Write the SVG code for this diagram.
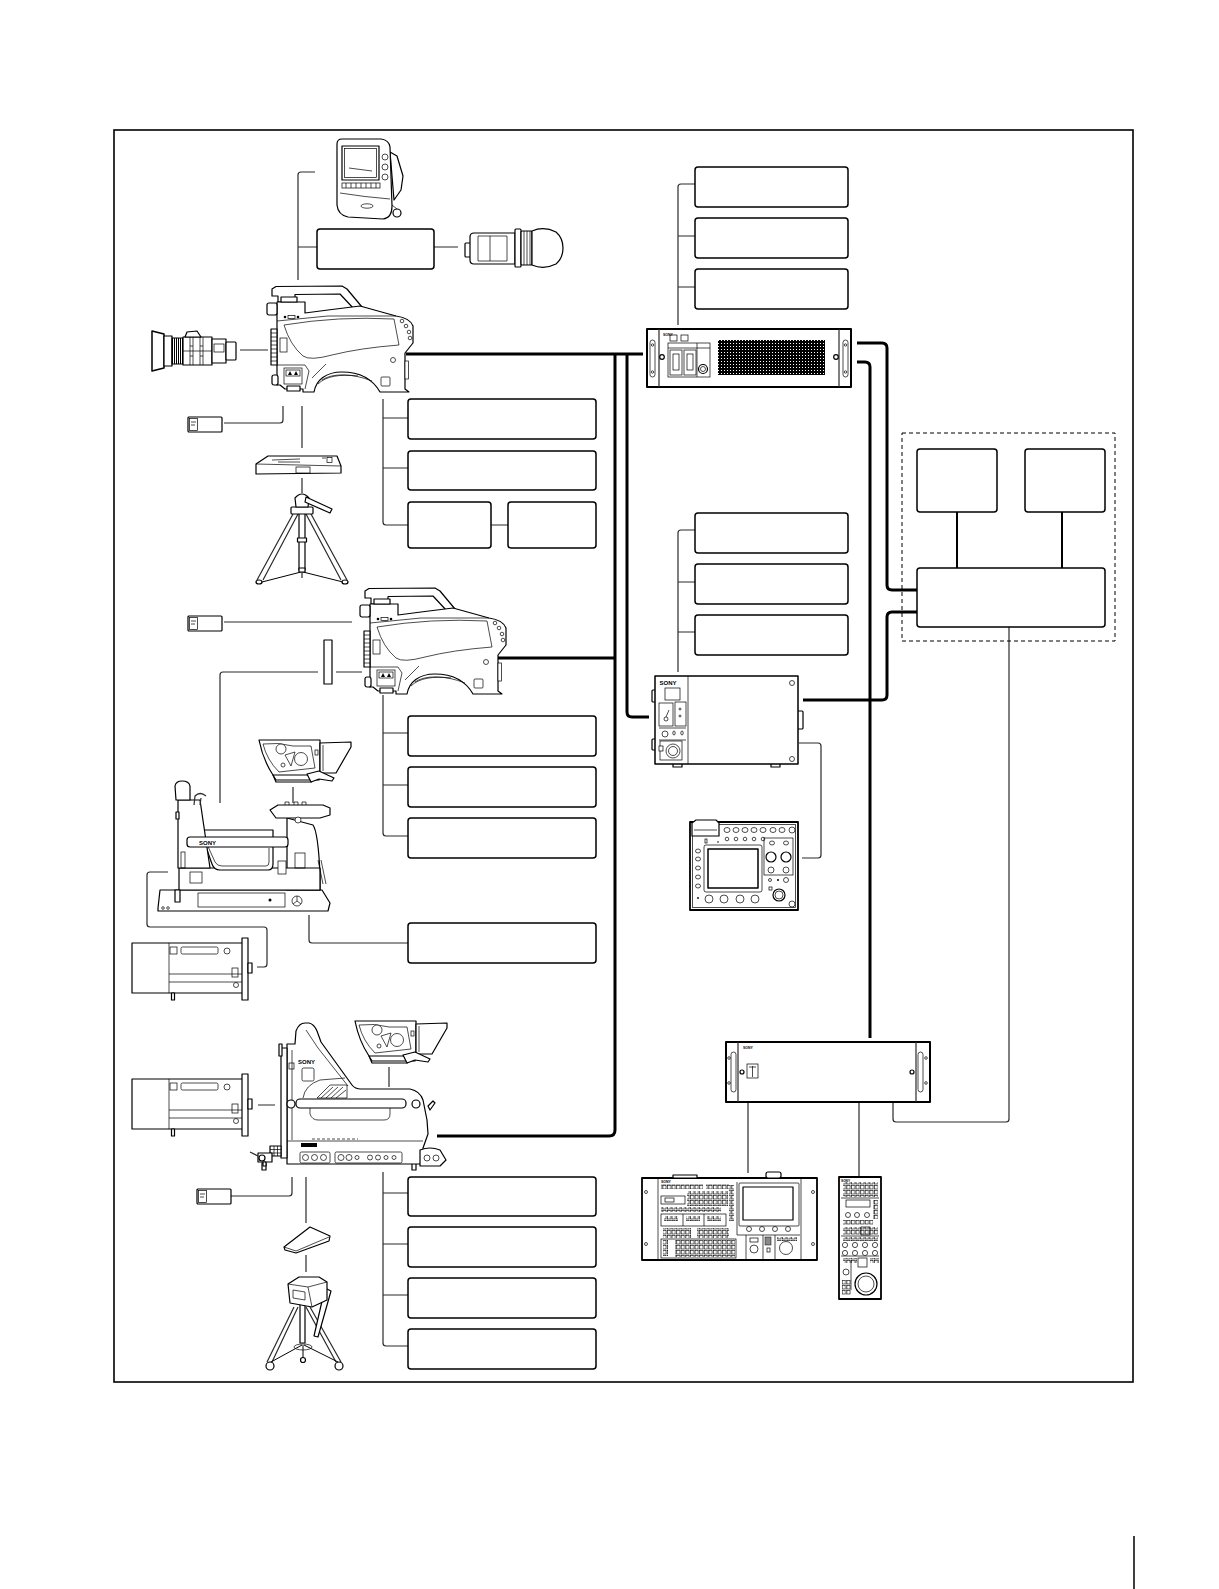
<svg xmlns="http://www.w3.org/2000/svg" width="1219" height="1589" viewBox="0 0 1219 1589">
<style>
.frame{fill:none;stroke:#000;stroke-width:1.6}
.box{fill:#fff;stroke:#000;stroke-width:1.5}
.c1{fill:none;stroke:#2a2a2a;stroke-width:1.2}
.c2{fill:none;stroke:#000;stroke-width:2}
.c3{fill:none;stroke:#000;stroke-width:3}
.w{fill:#fff;stroke:#000;stroke-width:1.2;stroke-linejoin:round}
.t{fill:none;stroke:#000;stroke-width:0.7}
.tw{fill:#fff;stroke:#000;stroke-width:0.7}
.k{fill:#000}
.dash{fill:none;stroke:#000;stroke-width:1;stroke-dasharray:4 3}
.logo{font-family:"Liberation Sans",Arial,sans-serif;font-weight:bold;fill:#000}
</style>
<defs>
<pattern id="dots" width="3" height="3" patternUnits="userSpaceOnUse"><rect width="3" height="3" fill="#000"/><rect x="1" y="1" width="1" height="1" fill="#fff"/></pattern>
<pattern id="btn" width="4.6" height="5" patternUnits="userSpaceOnUse"><rect x="0.5" y="0.6" width="3.2" height="3.4" fill="#fff" stroke="#000" stroke-width="0.6"/></pattern>
<pattern id="vlines" width="2" height="4" patternUnits="userSpaceOnUse"><rect width="1" height="4" fill="#000"/></pattern>
<g id="camhead">
<path class="w" d="M4,11 L4,4 L8,1.5 L74,1 L79,4 L94,22 L86,24 L72,9 L27,9.5 L27,17 L10,17 L10,11 Z"/>
<path class="w" d="M9,36 L9,17 L37,17 L37,28 L60,25 L92,21 L128,31 Q142,33 145,41 L145,58 L137,68 L137,104 L141,107 L112,107 C104,93 92,87 74,87 C58,87 48,95 46,107 L35,107 L35,104 L17,104 L12,100 L9,100 Z"/>
<path class="t" d="M9,36 L60,31 L128,31"/>
<path class="t" d="M16,40 Q70,31 126,34 L131,60 Q92,63 64,70 Q42,76 35,71 Q22,60 16,40 Z"/>
<rect class="w" x="-1" y="18" width="10" height="12" rx="2"/>
<rect class="w" x="13" y="12" width="16" height="5"/>
<circle class="k" cx="17" cy="32" r="1.3"/><rect class="tw" x="20" y="30.5" width="7" height="3"/><circle class="k" cx="30" cy="32" r="1.3"/>
<rect class="w" x="3" y="44" width="6" height="36"/>
<path class="t" d="M3,48H9M3,52H9M3,56H9M3,60H9M3,64H9M3,68H9M3,72H9M3,76H9"/>
<rect class="t" x="12" y="53" width="7" height="14"/>
<path class="t" d="M9,80 L37,80 L41,86 L37,104"/>
<rect class="tw" x="16" y="83" width="18" height="16"/>
<rect class="t" x="18" y="85" width="14" height="6"/>
<path class="k" d="M20,90 L22,86 L24,90 Z M26,90 L28,86 L30,90 Z"/>
<rect class="w" x="19" y="101" width="13" height="5"/>
<rect class="w" x="4" y="90" width="6" height="10" rx="2"/>
<circle class="t" cx="125" cy="75" r="2.5"/>
<rect class="tw" x="113" y="92" width="9" height="9" rx="1"/>
<rect class="tw" x="137" y="76" width="3.5" height="18"/>
<circle class="t" cx="134" cy="36" r="1.8"/><circle class="t" cx="138" cy="41" r="1.8"/><circle class="t" cx="141" cy="47" r="1.8"/><circle class="t" cx="142" cy="53" r="1.8"/>
<path class="t" d="M50,99 C58,91 72,89 90,91 M54,95 C64,88 84,88 104,96 M44,93 L58,79"/>
</g>
<g id="bigvf">
<path class="w" d="M0,2 L61,2 L61,37 L52,44 L17,44 L14,37 Q4,22 0,2 Z"/>
<path class="w" d="M61,5 L92,4 L92,9 L77,35 L61,35 Z"/>
<path class="t" d="M64,7 L64,33"/>
<path class="t" d="M4,6 Q20,4 34,8 L52,8 L56,30 L20,34 Q8,22 4,6 Z"/>
<circle class="tw" cx="22" cy="11" r="5"/>
<circle class="tw" cx="42" cy="21" r="6.5"/>
<path class="tw" d="M26,17 L36,14 L32,28 Z"/>
<circle class="tw" cx="24" cy="27" r="2"/>
<path class="w" d="M14,37 L60,37 L60,42 L17,42 Z"/>
<path class="w" d="M48,36 L60,33 L75,40 L73,43 L60,41 L52,44 Z"/>
<rect class="t" x="56" y="12" width="3" height="5"/>
</g>
<g id="biglens">
<rect class="w" x="0" y="0" width="111" height="50"/>
<path class="t" d="M37,0 V50 M37,31 H111 M37,39 H111"/>
<rect class="t" x="38" y="4" width="7" height="7"/>
<rect class="t" x="49" y="4" width="37" height="7" rx="1.5"/>
<circle class="t" cx="95" cy="8" r="3"/>
<rect class="w" x="110" y="-5" width="6" height="62"/>
<rect class="w" x="116" y="20" width="4" height="10"/>
<rect class="t" x="100" y="25" width="6" height="9"/>
<circle class="t" cx="104" cy="42" r="2.5"/>
<rect class="w" x="39.5" y="50" width="3" height="7"/>
</g>
<g id="card">
<rect class="w" x="0" y="0" width="34" height="15" rx="1"/>
<rect class="t" x="1.5" y="1.5" width="8" height="12"/>
<path class="t" d="M3,5 H8 M3,8 H7"/>
</g>
</defs>
<rect x="0" y="0" width="1219" height="1589" fill="#fff"/>
<rect class="frame" x="114" y="130" width="1019" height="1252"/>
<path d="M1134,1536 V1589" stroke="#000" stroke-width="1.5"/>

<g id="connectors">
<path class="c1" d="M315,172 H301 Q298,172 298,175 V280 M298,247 H317 M434,247 H458 M240,350 H268"/>
<path class="c1" d="M224,423 H280 Q283,423 283,420 V406 M302,406 V448 M302,478 V493"/>
<path class="c1" d="M383,399 V522 Q383,525 386,525 H408 M383,418 H408 M383,468 H408 M491,525 H508"/>
<path class="c1" d="M678,325 V187 Q678,184 681,184 H695 M678,236 H695 M678,287 H695"/>
<path class="c1" d="M678,672 V533 Q678,530 681,530 H695 M678,582 H695 M678,632 H695"/>
<path class="c1" d="M224,622 H352 M220,803 V675 Q220,672 223,672 H318 M336,672 H362"/>
<path class="c1" d="M383,695 V833 Q383,836 386,836 H408 M383,733 H408 M383,785 H408"/>
<path class="c1" d="M293,787 V803 M309,915 V940 Q309,943 312,943 H408"/>
<path class="c1" d="M168,872 H150 Q147,872 147,875 V924 Q147,927 150,927 H264 Q267,927 267,930 V964 Q267,967 264,967 H257"/>
<path class="c1" d="M258,1105 H275 M389,1067 V1087 M230,1196 H289 Q292,1196 292,1193 V1177 M306,1177 V1223 M306,1255 V1272"/>
<path class="c1" d="M383,1172 V1343 Q383,1346 386,1346 H408 M383,1193 H408 M383,1244 H408 M383,1295 H408"/>
<path class="c1" d="M799,743 H818 Q821,743 821,746 V855 Q821,858 818,858 H802"/>
<path class="c1" d="M1009,627 V1119 Q1009,1122 1006,1122 H896 Q893,1122 893,1119 V1103 M748,1103 V1173 M859,1103 V1177"/>
<path class="c2" d="M957,512 V568 M1062,512 V568"/>
<path class="c3" d="M406,354 H643 M615,354 V1130 Q615,1136 609,1136 H437 M627,354 V712 Q627,717 632,717 H649 M498,658 H615"/>
<path class="c3" d="M857,343 H882 Q887,343 887,348 V585 Q887,590 892,590 H917 M857,362 H865 Q870,362 870,367 V1038 M803,700 H882 Q887,700 887,695 V617 Q887,612 892,612 H917"/>
</g>

<g id="box-a"><rect class="box" x="317" y="229" width="117" height="40" rx="3"/></g>
<g id="box-r1"><rect class="box" x="695" y="167" width="153" height="40" rx="3"/></g>
<g id="box-r2"><rect class="box" x="695" y="218" width="153" height="40" rx="3"/></g>
<g id="box-r3"><rect class="box" x="695" y="269" width="153" height="40" rx="3"/></g>
<g id="box-b1"><rect class="box" x="408" y="399" width="188" height="40" rx="3"/></g>
<g id="box-b2"><rect class="box" x="408" y="451" width="188" height="39" rx="3"/></g>
<g id="box-b3a"><rect class="box" x="408" y="502" width="83" height="46" rx="3"/></g>
<g id="box-b3b"><rect class="box" x="508" y="502" width="88" height="46" rx="3"/></g>
<g id="box-r4"><rect class="box" x="695" y="513" width="153" height="40" rx="3"/></g>
<g id="box-r5"><rect class="box" x="695" y="564" width="153" height="40" rx="3"/></g>
<g id="box-r6"><rect class="box" x="695" y="615" width="153" height="40" rx="3"/></g>
<g id="group-dashed"><rect class="dash" x="902" y="433" width="213" height="208"/></g>
<g id="box-d1"><rect class="box" x="917" y="449" width="80" height="63" rx="3"/></g>
<g id="box-d2"><rect class="box" x="1025" y="449" width="80" height="63" rx="3"/></g>
<g id="box-c"><rect class="box" x="917" y="568" width="188" height="59" rx="3"/></g>
<g id="box-e1"><rect class="box" x="408" y="716" width="188" height="40" rx="3"/></g>
<g id="box-e2"><rect class="box" x="408" y="767" width="188" height="40" rx="3"/></g>
<g id="box-e3"><rect class="box" x="408" y="818" width="188" height="40" rx="3"/></g>
<g id="box-e4"><rect class="box" x="408" y="923" width="188" height="40" rx="3"/></g>
<g id="box-f1"><rect class="box" x="408" y="1177" width="188" height="39" rx="3"/></g>
<g id="box-f2"><rect class="box" x="408" y="1227" width="188" height="40" rx="3"/></g>
<g id="box-f3"><rect class="box" x="408" y="1278" width="188" height="40" rx="3"/></g>
<g id="box-f4"><rect class="box" x="408" y="1329" width="188" height="40" rx="3"/></g>

<g id="lcd-monitor">
<path class="w" d="M390,152 L397,156 L403,176 L401,190 L394,200 Z"/>
<path class="w" d="M337,144 Q337,139 342,139 L381,139 Q389,140 390,147 L392,206 Q392,218 383,219 L348,217 Q338,215 337,205 Z"/>
<rect class="w" x="342" y="146" width="37" height="34"/>
<rect class="t" x="344.5" y="148.5" width="32" height="29"/>
<path class="t" d="M349,168 L372,171"/>
<circle class="tw" cx="385" cy="157" r="3"/><circle class="tw" cx="385" cy="167" r="3"/><circle class="tw" cx="385" cy="177" r="3"/>
<rect class="tw" x="342" y="183" width="38" height="5"/>
<path class="t" d="M346,183 V188 M351,183 V188 M356,183 V188 M361,183 V188 M366,183 V188 M371,183 V188 M376,183 V188"/>
<path class="t" d="M340,193 Q365,197 390,199"/>
<ellipse class="tw" cx="367" cy="206" rx="6" ry="2.2"/>
<circle class="w" cx="397" cy="213" r="4"/>
<path class="t" d="M392,205 L397,209"/>
</g>

<g id="eyepiece">
<rect class="w" x="465" y="243" width="6" height="14" rx="1"/>
<path class="w" d="M470,237 Q470,233 474,233 L515,233 L515,264 L474,264 Q470,264 470,260 Z"/>
<path class="t" d="M478,236 L478,261 L507,261 L507,236 Z M490,236 V261"/>
<rect class="w" x="515" y="229" width="6" height="38" rx="1"/>
<rect class="w" x="521" y="231" width="11" height="34" rx="1"/>
<path class="t" d="M524,231 V265 M527,231 V265 M530,231 V265"/>
<path class="w" d="M532,231 Q544,226 556,232 Q563,238 563,248 Q563,258 556,264 Q544,270 532,265 Z"/>
</g>

<g id="lens-1">
<path class="w" style="stroke-width:1.5" d="M152,331 L164,334 L164,368 L152,371 Z"/>
<rect class="w" x="164" y="336" width="8" height="30"/>
<rect x="172" y="338" width="11" height="26" fill="url(#vlines)" stroke="#000" stroke-width="1"/>
<rect class="w" x="183" y="337" width="29" height="28"/>
<path class="t" d="M190,337 V365 M193,337 V365 M200,337 V365 M203,337 V365 M190,346 H193 M190,356 H193 M200,346 H203 M200,356 H203 M183,351 H212"/>
<path class="w" d="M185,337 L187,332 L197,331 L201,337 Z"/>
<rect class="w" x="212" y="339" width="14" height="24"/>
<rect class="w" x="226" y="342" width="10" height="18" rx="1"/>
<rect class="tw" x="214" y="344" width="10" height="8"/>
</g>

<g id="camera-1"><use href="#camhead" transform="translate(268,285)"/></g>
<g id="card-1"><use href="#card" x="188" y="417"/></g>

<g id="plate-1">
<path class="w" d="M256,464 L268,456 L337,456 L341,466 L341,473 L256,474 Z"/>
<path class="t" d="M256,464 L341,466 M272,460 L300,459 M278,462 L300,462 M322,458 L326,458"/>
<rect class="tw" x="296" y="467" width="14" height="6"/>
<rect class="tw" x="327" y="457.5" width="5" height="5"/>
</g>

<g id="tripod-1">
<path class="c1" d="M293,514 L257,580 M298,514 L263,580 M311,514 L347,580 M306,514 L341,580"/>
<rect class="w" x="299" y="512" width="6" height="58"/>
<rect class="w" x="297.5" y="538" width="9" height="4"/>
<rect class="w" x="291" y="507" width="22" height="7" rx="1"/>
<path class="w" d="M296,507 L295,498 Q302,490 309,498 L308,507 Z"/>
<path class="w" d="M306,497 L332,509 L330,513 L305,502 Z"/>
<path class="t" style="stroke-width:1" d="M301,572 L262,582 M303,572 L343,582 M302,570 V578"/>
<ellipse class="w" cx="259" cy="582" rx="3" ry="2"/><ellipse class="w" cx="345" cy="582" rx="3" ry="2"/>
<rect class="w" x="299" y="568" width="6" height="4"/>
</g>

<g id="camera-2"><use href="#camhead" transform="translate(361,587)"/></g>
<g id="card-2"><use href="#card" x="188" y="616"/></g>
<g id="adapter-bar"><rect class="w" x="324" y="640" width="8" height="44"/></g>

<g id="viewfinder-2"><use href="#bigvf" transform="translate(259,738)"/></g>

<g id="studio-adapter">
<path class="w" d="M158,908 L160,890 L322,890 L330,903 L328,911 L158,911 Z"/>
<rect class="t" x="198" y="893" width="87" height="14"/>
<circle class="k" cx="270" cy="900" r="1.5"/>
<circle class="t" cx="297" cy="901" r="5"/>
<path class="t" d="M297,901 V896 M297,901 L293,904 M297,901 L301,904"/>
<circle class="t" cx="163" cy="908" r="1.3"/><circle class="t" cx="168" cy="908" r="1.3"/>
<path class="w" d="M287,818 L313,825 Q318,832 320,873 L320,890 L287,890 Z"/>
<rect class="w" x="179" y="868" width="141" height="22"/>
<rect class="t" x="190" y="872" width="12" height="11"/>
<path class="w" d="M200,830 L212,864 Q214,870 220,870 L268,870 Q273,870 273,864 L273,830 Z"/>
<path class="t" d="M206,842 L215,862 Q217,866 222,866 L266,866 Q269,866 269,862 L269,848"/>
<path class="w" d="M178,800 L200,800 L210,868 L178,868 Z"/>
<rect class="w" x="176" y="812" width="3" height="7"/>
<rect class="t" x="181" y="852" width="4" height="16"/>
<path class="w" d="M176,800 L175,786 Q176,781 182,781 Q189,781 190,786 L190,800 Z"/>
<path class="c1" d="M194,805 L195,796 Q200,791 206,796 M200,805 L201,798"/>
<path class="w" d="M270,810 L278,805 L323,805 L330,808 L330,815 L320,818 L276,818 Z"/>
<path class="t" d="M285,805 V802 H289 V805 M294,805 V802 H298 V805 M302,805 V802 H306 V805"/>
<circle class="tw" cx="298" cy="820" r="3"/>
<rect class="w" x="187" y="837" width="101" height="10" rx="3"/>
<text class="logo" x="199" y="845" font-size="6">SONY</text>
<rect class="t" x="295" y="853" width="10" height="15"/>
<rect class="tw" x="278" y="861" width="8" height="13"/>
<path class="t" d="M318,860 L323,884 M321,860 L326,884"/>
<rect class="w" x="175" y="890" width="5" height="12"/>
</g>

<g id="lens-2"><use href="#biglens" transform="translate(132,943)"/></g>
<g id="lens-3"><use href="#biglens" transform="translate(132,1079)"/></g>

<g id="viewfinder-3"><use href="#bigvf" transform="translate(355,1019)"/></g>

<g id="camera-3">
<rect class="w" x="262" y="1163" width="4" height="7"/>
<rect class="w" x="412" y="1163" width="4" height="7"/>
<path class="w" d="M287,1044 L295,1044 L296,1031 Q299,1023 305,1023 L309,1023 Q314,1024 317,1031 L321,1042 L352,1085 Q355,1089 361,1089 L410,1089 Q420,1091 423,1100 L427,1120 L428,1134 L423,1148 L423,1164 L287,1164 Z"/>
<path class="t" d="M306,1030 L318,1048 L348,1086 M292,1050 V1140"/>
<rect class="w" x="281" y="1048" width="6" height="110"/>
<rect class="w" x="279" y="1044" width="3" height="12"/>
<rect class="t" x="289" y="1063" width="5" height="6"/>
<text class="logo" x="298" y="1064" font-size="6">SONY</text>
<rect class="t" x="302" y="1068" width="12" height="13" rx="1.5"/>
<path class="t" d="M303,1098 Q305,1085 320,1080 L345,1078"/>
<path class="tw" d="M317,1098 L330,1085 L347,1085 L347,1098 Z"/>
<path class="t" d="M321,1098 L333,1087 M326,1098 L338,1087 M331,1098 L343,1087 M336,1098 L346,1090"/>
<path class="t" d="M310,1108 L310,1114 Q312,1120 318,1120 L384,1120 Q390,1120 390,1114 L390,1108"/>
<rect class="w" x="296" y="1099" width="110" height="9" rx="4"/>
<circle class="w" cx="291" cy="1104" r="4"/><circle class="w" cx="416" cy="1104" r="4"/>
<path class="w" d="M428,1106 L433,1101 L435,1103 L430,1110 Z"/>
<path class="t" d="M312,1139 H358" stroke-dasharray="3 2"/>
<path class="t" d="M287,1141 H423"/>
<rect class="k" x="301" y="1143" width="16" height="4"/>
<rect class="tw" x="300" y="1152" width="30" height="11" rx="1.5"/>
<circle class="t" cx="305.5" cy="1157.5" r="3"/><circle class="t" cx="314.5" cy="1157.5" r="3"/><circle class="t" cx="323.5" cy="1157.5" r="3"/>
<rect class="tw" x="335" y="1152" width="67" height="11" rx="1.5"/>
<circle class="t" cx="341" cy="1157.5" r="3"/><circle class="t" cx="349" cy="1157.5" r="3"/><circle class="t" cx="357" cy="1157.5" r="2"/><circle class="t" cx="370" cy="1157.5" r="2.5"/><circle class="t" cx="378" cy="1157.5" r="2.5"/><circle class="t" cx="386" cy="1157.5" r="2"/><circle class="t" cx="394" cy="1157.5" r="2"/>
<path class="w" d="M420,1150 Q430,1146 440,1150 L446,1160 L440,1166 L420,1166 Z"/>
<circle class="t" cx="427" cy="1158" r="3"/><circle class="t" cx="436" cy="1158" r="3"/>
<rect class="w" x="270" y="1146" width="11" height="10"/>
<path class="t" d="M270,1149.5 H281 M270,1153 H281 M274,1146 V1156 M277.5,1146 V1156"/>
<rect class="w" x="258" y="1153" width="14" height="9"/>
<circle class="w" cx="262" cy="1158" r="3"/>
<path class="c1" d="M250,1152 L258,1156"/>
<rect class="w" x="263" y="1162" width="3" height="4"/>
</g>

<g id="card-3"><use href="#card" x="197" y="1189"/></g>

<g id="wedge-plate">
<path class="w" d="M284,1247 L310,1227 L330,1236 L329,1241 L296,1253 L285,1250 Z"/>
<path class="t" d="M284,1247 L296,1251 L329,1237"/>
</g>

<g id="tripod-2">
<path class="c1" d="M294,1307 L267,1362 M298,1307 L272,1362 M306,1307 L336,1362 M310,1307 L341,1362"/>
<rect class="w" x="300" y="1303" width="5" height="40"/>
<path class="w" d="M325,1288 L331,1291 L318,1337 L314,1336 Z"/>
<path class="w" d="M288,1284 L299,1277 L319,1277 L327,1282 L327,1300 L312,1307 L290,1303 Z"/>
<path class="t" d="M288,1284 L308,1287 L327,1282 M308,1287 L312,1307 M293,1290 L305,1292 L305,1300 L293,1298 Z"/>
<ellipse class="t" cx="303" cy="1347" rx="9" ry="3"/>
<path class="t" style="stroke-width:1" d="M302,1345 L271,1362 M304,1345 L338,1362 M303,1345 V1358"/>
<circle class="w" cx="270" cy="1366" r="4"/><circle class="w" cx="339" cy="1366" r="4"/><circle class="w" cx="303" cy="1360" r="2.5"/>
</g>

<g id="ccu-rack">
<rect class="w" style="stroke-width:2" x="647" y="329" width="204" height="58"/>
<path class="c1" d="M659,329 V387 M839,329 V387"/>
<rect class="tw" x="650" y="340" width="5" height="37" rx="2.5"/>
<rect class="tw" x="843" y="340" width="5" height="37" rx="2.5"/>
<circle class="t" cx="652.5" cy="345" r="1.2"/><circle class="t" cx="652.5" cy="372" r="1.2"/><circle class="t" cx="845.5" cy="345" r="1.2"/><circle class="t" cx="845.5" cy="372" r="1.2"/>
<circle class="w" cx="662" cy="357" r="2.3"/><circle class="w" cx="836" cy="357" r="2.3"/>
<text class="logo" x="663" y="336" font-size="3.5">SONY</text>
<rect class="t" x="670" y="335" width="7" height="6"/><rect class="t" x="681" y="335" width="7" height="6"/>
<rect class="t" x="668" y="343" width="42" height="34"/>
<path class="t" d="M668,348 H710 M697,343 V377"/>
<rect class="t" x="670" y="350" width="12" height="25"/><rect class="t" x="684" y="350" width="12" height="25"/>
<rect class="tw" x="673" y="354" width="6" height="16"/><rect class="tw" x="687" y="354" width="6" height="16"/>
<circle class="w" cx="703" cy="369" r="4.5"/><circle class="t" cx="703" cy="369" r="2.5"/>
<rect x="718" y="340" width="107" height="35" fill="url(#dots)"/>
</g>

<g id="ccu">
<rect class="w" x="652" y="690" width="4" height="12" rx="1"/>
<rect class="w" x="652" y="739" width="4" height="11" rx="1"/>
<rect class="w" x="797" y="711" width="6" height="18" rx="1"/>
<rect class="w" x="673" y="763" width="9" height="4"/><rect class="w" x="771" y="763" width="9" height="4"/>
<rect class="w" style="stroke-width:1.5" x="655" y="676" width="143" height="88"/>
<path class="t" d="M688,676 V764 M659,728 H686 M659,740 H686"/>
<text class="logo" x="659.5" y="685" font-size="6">SONY</text>
<rect class="t" x="665" y="688" width="15" height="12"/>
<rect class="t" x="659" y="703" width="14" height="23"/><rect class="t" x="675" y="702" width="11" height="24"/>
<circle class="t" cx="666" cy="719" r="2"/><path class="t" d="M666,717 L669,710"/>
<circle class="t" cx="680" cy="709" r="1"/><circle class="t" cx="680" cy="716" r="1"/>
<circle class="t" cx="665" cy="734" r="3"/><ellipse class="t" cx="674" cy="733" rx="1.2" ry="2"/><ellipse class="t" cx="682" cy="733" rx="1.2" ry="2"/>
<rect class="t" x="660" y="741" width="22" height="19"/>
<circle class="tw" cx="673" cy="751" r="7"/><circle class="t" cx="673" cy="751" r="4.5"/>
<rect class="tw" x="659" y="746" width="4" height="5"/>
<circle class="t" cx="792" cy="683" r="2.5"/><circle class="t" cx="792" cy="759" r="2.5"/>
</g>

<g id="rcp">
<rect class="w" style="stroke-width:1.8" x="690" y="822" width="108" height="88"/>
<rect class="t" x="692.5" y="824.5" width="103" height="83"/>
<path class="w" d="M692,823 L696,820 L716,820 L719,823 L719,836 L692,836 Z"/>
<path class="t" d="M694,830 H717"/>
<ellipse class="tw" cx="727" cy="830" rx="3" ry="2.5"/><ellipse class="tw" cx="736" cy="830" rx="3" ry="2.5"/><ellipse class="tw" cx="745" cy="830" rx="3" ry="2.5"/><ellipse class="tw" cx="754" cy="830" rx="3" ry="2.5"/><ellipse class="tw" cx="763" cy="830" rx="3" ry="2.5"/><ellipse class="tw" cx="773" cy="830" rx="3" ry="2.5"/><ellipse class="tw" cx="782" cy="830" rx="3" ry="2.5"/>
<circle class="t" cx="792" cy="830" r="3"/>
<circle class="t" cx="727" cy="839" r="1.8"/><circle class="t" cx="736" cy="839" r="1.8"/><circle class="t" cx="745" cy="839" r="1.8"/><circle class="t" cx="754" cy="839" r="1.8"/><circle class="t" cx="763" cy="839" r="1.8"/>
<ellipse class="t" cx="698" cy="851" rx="2.5" ry="2"/><ellipse class="t" cx="698" cy="859" rx="2.5" ry="2"/><ellipse class="t" cx="698" cy="868" rx="2.5" ry="2"/><ellipse class="t" cx="698" cy="877" rx="2.5" ry="2"/><ellipse class="t" cx="698" cy="886" rx="2.5" ry="2"/>
<rect class="t" x="704" y="845" width="58" height="47" rx="2"/>
<rect class="w" style="stroke-width:1.5" x="708" y="849" width="50" height="39"/>
<rect class="t" x="764" y="838" width="29" height="37"/>
<ellipse class="t" cx="772" cy="843" rx="2.5" ry="2"/><ellipse class="t" cx="786" cy="843" rx="2.5" ry="2"/>
<circle class="w" cx="771" cy="857" r="5"/><circle class="w" cx="786" cy="857" r="5"/>
<circle class="t" cx="771" cy="870" r="3"/><circle class="t" cx="786" cy="870" r="3"/>
<circle class="t" cx="770" cy="880" r="1.5"/><circle class="k" cx="778" cy="880" r="1"/><circle class="t" cx="786" cy="880" r="2.5"/>
<circle class="w" cx="779" cy="895" r="6"/><circle class="t" cx="779" cy="895" r="4"/>
<rect class="t" x="769" y="887" width="3" height="3"/>
<circle class="tw" cx="709" cy="899" r="4"/><circle class="tw" cx="724" cy="899" r="4"/><circle class="tw" cx="740" cy="899" r="4"/><circle class="tw" cx="755" cy="899" r="4"/>
<circle class="k" cx="698" cy="898" r="0.9"/><rect class="t" x="705" y="839" width="2" height="4"/><circle class="k" cx="718" cy="842" r="0.8"/>
<circle class="t" cx="792" cy="904" r="3"/>
</g>

<g id="rack-bottom">
<rect class="w" style="stroke-width:2" x="726" y="1042" width="204" height="60"/>
<path class="c1" d="M738,1042 V1102 M916,1042 V1102"/>
<rect class="tw" x="731" y="1052" width="5" height="40" rx="2.5"/>
<rect class="tw" x="918" y="1052" width="5" height="40" rx="2.5"/>
<circle class="t" cx="729" cy="1058" r="1.3"/><circle class="t" cx="729" cy="1083" r="1.3"/><circle class="t" cx="926" cy="1058" r="1.3"/><circle class="t" cx="926" cy="1083" r="1.3"/>
<circle class="w" cx="742" cy="1072" r="2"/><circle class="w" cx="912" cy="1072" r="2"/>
<text class="logo" x="743" y="1048.5" font-size="3.5">SONY</text>
<rect class="tw" x="747" y="1064" width="11" height="14"/>
<path class="t" d="M749,1067 H756 M752.5,1066 V1077"/>
</g>

<g id="msu">
<rect class="w" style="stroke-width:1.8" x="642" y="1178" width="175" height="82"/>
<path class="t" d="M658,1178 V1260 M801,1178 V1260"/>
<circle class="t" cx="646" cy="1192" r="1.5"/><circle class="t" cx="646" cy="1244" r="1.5"/><circle class="t" cx="813" cy="1192" r="1.5"/><circle class="t" cx="813" cy="1244" r="1.5"/>
<rect class="w" x="673" y="1175" width="24" height="3"/>
<rect class="w" x="766" y="1172" width="15" height="6" rx="2"/>
<text class="logo" x="661" y="1183" font-size="3.5">SONY</text>
<rect x="661" y="1184" width="42" height="5" fill="url(#btn)"/>
<rect x="706" y="1184" width="23" height="5" fill="url(#btn)"/>
<rect x="687" y="1191" width="41" height="15" fill="url(#btn)"/>
<rect class="t" x="661" y="1196" width="24" height="8"/>
<rect class="t" x="665" y="1198" width="9" height="4"/>
<rect x="661" y="1207" width="60" height="5" fill="url(#btn)"/>
<rect class="t" x="661" y="1214" width="65" height="12"/>
<path class="t" d="M683,1214 V1226 M704,1214 V1226"/>
<rect x="664" y="1216" width="14" height="5" fill="url(#btn)"/><rect x="686" y="1216" width="14" height="5" fill="url(#btn)"/><rect x="707" y="1216" width="14" height="5" fill="url(#btn)"/>
<rect x="663" y="1228" width="28" height="10" fill="url(#btn)"/>
<rect x="697" y="1228" width="32" height="10" fill="url(#btn)"/>
<rect class="t" x="661" y="1239" width="75" height="19"/>
<rect x="675" y="1240" width="60" height="17" fill="url(#btn)"/>
<rect x="663" y="1240" width="5" height="16" fill="url(#btn)"/>
<rect x="729" y="1185" width="5" height="36" fill="url(#btn)"/>
<path class="t" d="M737,1182 V1235 M737,1235 H800 M746,1235 V1260 M763,1235 V1260 M775,1235 V1260"/>
<rect class="t" x="739" y="1183" width="60" height="43" rx="1"/>
<rect class="w" x="743" y="1187" width="50" height="33"/>
<circle class="t" cx="749" cy="1229" r="2.5"/><circle class="t" cx="762" cy="1229" r="2.5"/><circle class="t" cx="775" cy="1229" r="2.5"/><circle class="t" cx="788" cy="1229" r="2.5"/>
<rect class="tw" x="750" y="1238" width="8" height="4"/>
<circle class="t" cx="754" cy="1249" r="4"/>
<rect x="765" y="1237" width="6" height="8" fill="#888" stroke="#000" stroke-width="0.5"/>
<rect class="t" x="767" y="1248" width="3" height="4"/>
<circle class="t" cx="786" cy="1248" r="6.5"/>
<rect x="777" y="1237" width="20" height="4" fill="url(#btn)"/>
</g>

<g id="remote">
<rect class="w" style="stroke-width:1.8" x="839" y="1177" width="42" height="122"/>
<text class="logo" x="841" y="1181.5" font-size="3.2">SONY</text>
<rect x="843" y="1182" width="35" height="15" fill="url(#btn)"/>
<path class="t" d="M841,1198 H879 M841,1236 H879 M841,1256 H879"/>
<rect class="t" x="846" y="1200" width="24" height="7"/>
<circle class="t" cx="848" cy="1215" r="2.5"/><circle class="t" cx="857" cy="1215" r="2.5"/><circle class="t" cx="867" cy="1215" r="2.5"/>
<rect x="873" y="1200" width="5" height="19" fill="url(#btn)"/>
<rect x="843" y="1220" width="30" height="5" fill="url(#btn)"/>
<rect x="843" y="1227" width="35" height="8" fill="url(#btn)"/>
<rect class="t" x="861" y="1227" width="9" height="8"/>
<rect x="843" y="1237" width="35" height="4" fill="url(#btn)"/>
<circle class="tw" cx="845" cy="1245" r="2.6"/><circle class="tw" cx="855" cy="1245" r="2.6"/><circle class="tw" cx="865" cy="1245" r="2.6"/><circle class="tw" cx="875" cy="1245" r="2.6"/>
<circle class="tw" cx="845" cy="1253" r="2.6"/><circle class="tw" cx="855" cy="1253" r="2.6"/><circle class="tw" cx="865" cy="1253" r="2.6"/><circle class="tw" cx="875" cy="1253" r="2.6"/>
<rect x="843" y="1258" width="14" height="5" fill="url(#btn)"/>
<rect class="t" x="858" y="1258" width="9" height="9"/>
<rect x="870" y="1258" width="9" height="5" fill="url(#btn)"/>
<circle class="t" cx="846" cy="1272" r="3"/>
<path class="t" d="M851,1260 V1290"/>
<circle class="w" cx="866" cy="1284" r="11"/><circle class="t" cx="866" cy="1284" r="8"/>
<rect x="842" y="1280" width="9" height="15" fill="url(#btn)"/>
</g>
</svg>
